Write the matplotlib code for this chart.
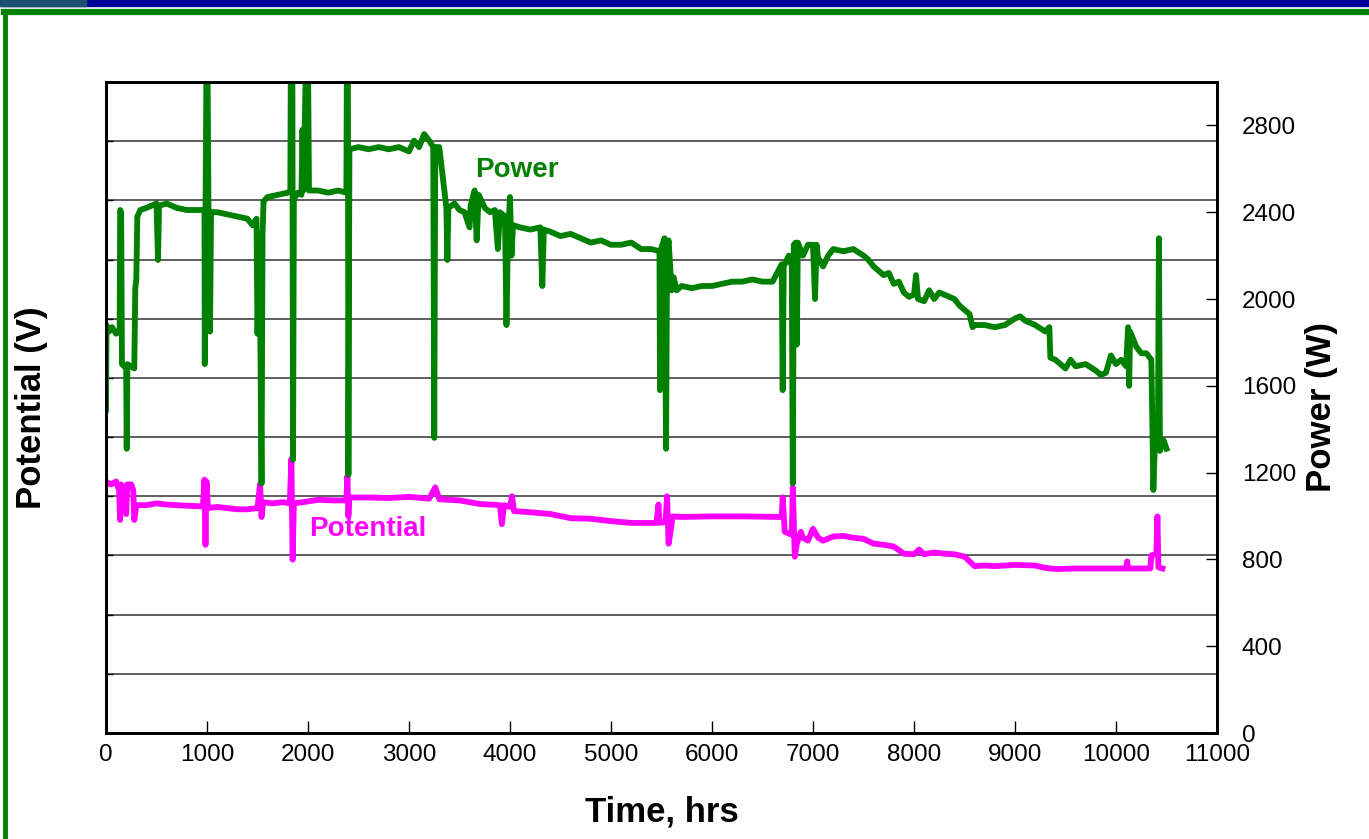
import numpy as np
import matplotlib.pyplot as plt
from matplotlib.lines import Line2D
from matplotlib.patches import Rectangle

plt.rcParams['font.family'] = ['Liberation Sans', 'DejaVu Sans']

# power trace (hrs, W)
power_t = [0, 5, 30, 60, 100, 135, 140, 150, 158, 200, 205, 212, 280, 290, 300, 310,
           340, 400, 450, 500, 515, 525, 600, 700, 800, 960, 975, 978, 985, 995, 1005,
           1015, 1030, 1040, 1100, 1200, 1300, 1400, 1450, 1490, 1500, 1520, 1540, 1550,
           1560, 1600, 1700, 1800, 1825, 1830, 1845, 1852, 1860, 1900, 1935, 1945, 1955,
           1980, 2000, 2010, 2100, 2200, 2300, 2380, 2385, 2395, 2400, 2410, 2500, 2600,
           2700, 2800, 2900, 3000, 3050, 3100, 3150, 3200, 3240, 3250, 3260, 3300, 3370,
           3380, 3390, 3450, 3500, 3550, 3600, 3610, 3650, 3670, 3690, 3750, 3800, 3850,
           3880, 3900, 3950, 3965, 3980, 4000, 4015, 4030, 4100, 4200, 4300, 4320, 4335,
           4400, 4500, 4600, 4700, 4800, 4900, 5000, 5100, 5200, 5300, 5400, 5480, 5485,
           5495, 5530, 5545, 5555, 5570, 5600, 5620, 5650, 5700, 5800, 5900, 6000, 6100,
           6200, 6300, 6400, 6500, 6600, 6690, 6700, 6710, 6760, 6790, 6800, 6810, 6830,
           6840, 6850, 6900, 6950, 7000, 7020, 7035, 7050, 7100, 7150, 7200, 7300, 7400,
           7500, 7550, 7600, 7650, 7700, 7750, 7800, 7850, 7900, 7950, 8000, 8020, 8040,
           8100, 8150, 8200, 8250, 8300, 8400, 8450, 8500, 8550, 8580, 8600, 8700, 8800,
           8900, 9000, 9050, 9100, 9200, 9300, 9340, 9350, 9400, 9450, 9500, 9550, 9600,
           9700, 9800, 9850, 9900, 9950, 10000, 10050, 10100, 10120, 10130, 10140, 10200,
           10250, 10300, 10350, 10370, 10390, 10415, 10425, 10435, 10470, 10500]
power_w = [1490, 1880, 1850, 1870, 1840, 1850, 2410, 2400, 1700, 1680, 1310, 1700, 1680, 2050,
           2090, 2380, 2410, 2420, 2430, 2440, 2180, 2430, 2440, 2420, 2410, 2410, 2410, 1700,
           2400, 3100, 3100, 2400, 1850, 2400, 2400, 2390, 2380, 2370, 2340, 2370, 1840, 2300,
           1150, 2300, 2450, 2470, 2480, 2490, 2500, 3100, 3100, 1260, 2460, 2490, 2480, 2780,
           2500, 3100, 3100, 2500, 2500, 2490, 2500, 2490, 3100, 3100, 1190, 2690, 2700, 2690,
           2700, 2690, 2700, 2680, 2730, 2700, 2760, 2730, 2700, 1360, 2700, 2700, 2420, 2180,
           2420, 2440, 2410, 2400, 2330, 2430, 2500, 2270, 2480, 2420, 2400, 2410, 2230, 2400,
           2380, 1880, 2300, 2470, 2200, 2340, 2330, 2320, 2330, 2060, 2320, 2310, 2290, 2300,
           2280, 2260, 2270, 2250, 2250, 2260, 2230, 2230, 2220, 1580, 2230, 2280, 1310, 2200,
           2270, 2040, 2100, 2040, 2060, 2050, 2060, 2060, 2070, 2080, 2080, 2090, 2080, 2080,
           2160, 1580, 2150, 2200, 2150, 1150, 2250, 2260, 1790, 2260, 2200, 2250, 2250, 2000,
           2250, 2190, 2150, 2200, 2230, 2220, 2230, 2200, 2180, 2150, 2130, 2110, 2120, 2070,
           2080, 2030, 2010, 2020, 2110, 2000, 1990, 2040, 2000, 2030, 2020, 2000, 1970, 1950,
           1930, 1870, 1880, 1880, 1870, 1880, 1910, 1920, 1900, 1880, 1850, 1870, 1730, 1720,
           1700, 1680, 1720, 1690, 1700, 1670, 1650, 1660, 1740, 1700, 1720, 1690, 1870, 1600,
           1850, 1780, 1750, 1750, 1720, 1120, 1400, 1350, 2280, 1300, 1350, 1310]

# potential trace (hrs, V)
pot_t = [0, 50, 100, 130, 140, 150, 180, 200, 210, 250, 270, 280, 300, 400, 500, 600, 700,
         800, 960, 975, 985, 995, 1010, 1100, 1200, 1300, 1400, 1500, 1525, 1540, 1555, 1650,
         1750, 1820, 1835, 1848, 1860, 1950, 2100, 2250, 2380, 2390, 2400, 2410, 2600, 2800,
         3000, 3200, 3260, 3300, 3500, 3700, 3900, 3920, 3940, 4000, 4020, 4040, 4200, 4400,
         4600, 4800, 5000, 5200, 5450, 5470, 5480, 5540, 5555, 5570, 5590, 5610, 5700, 6000,
         6300, 6690, 6700, 6720, 6790, 6800, 6820, 6840, 6880, 6900, 6950, 7000, 7050, 7100,
         7200, 7300, 7400, 7500, 7600, 7700, 7800, 7900, 8000, 8050, 8100, 8200, 8300, 8400,
         8500, 8600, 8700, 8800, 9000, 9200, 9300, 9400, 9600, 10000, 10100, 10110, 10120,
         10340, 10350, 10400, 10410, 10420, 10460]
pot_v = [42.5, 42, 42.5, 41, 36, 42, 41, 37, 42, 42, 41, 36, 38.5, 38.5, 38.8, 38.6, 38.5,
         38.4, 38.3, 42.8, 31.8, 42.5, 38, 38.2, 38, 37.8, 37.8, 38, 42, 36.5, 39, 38.8, 39,
         38.8, 46.3, 29.3, 38.8, 39, 39.4, 39.3, 39.3, 43.4, 36.6, 39.8, 39.8, 39.7, 39.9,
         39.6, 41.5, 39.5, 39.3, 38.7, 38.5, 35.3, 38.5, 38.2, 40, 37.5, 37.3, 37, 36.3, 36.2,
         35.8, 35.5, 35.5, 38.6, 35.5, 35.7, 40, 32, 34, 36.6, 36.5, 36.6, 36.6, 36.5, 39.8,
         34, 33.5, 41.5, 29.8, 32, 34, 33, 32.5, 34.5, 33, 32.5, 33.2, 33.3, 33, 32.8, 32,
         31.8, 31.5, 30.3, 30.2, 31, 30.2, 30.5, 30.3, 30.2, 29.8, 28.2, 28.3, 28.2, 28.4,
         28.3, 27.9, 27.7, 27.8, 27.8, 27.8, 29, 27.8, 27.8, 30, 30.3, 36.6, 28, 27.8]

x_ticks = np.arange(0, 11001, 1000)
power_ticks = np.arange(0, 2801, 400)

fig = plt.figure(figsize=(13.69, 8.39), dpi=100)
fig.set_facecolor('w')

# slide decoration
fig.patches.append(Rectangle((0, 1 - 6 / 839), 1, 6 / 839, transform=fig.transFigure,
                             color='#000099', zorder=0))
fig.patches.append(Rectangle((0, 1 - 6 / 839), 86 / 1369, 6 / 839, transform=fig.transFigure,
                             color='#1d4f72', zorder=1))
fig.lines.append(Line2D([4 / 1369, 1], [1 - 12 / 839, 1 - 12 / 839], transform=fig.transFigure,
                        color='#008000', lw=4.5))
fig.lines.append(Line2D([5.5 / 1369, 5.5 / 1369], [0, 1 - 12 / 839], transform=fig.transFigure,
                        color='#008000', lw=3.5))

ax = fig.add_axes([106 / 1369, 1 - 733 / 839, 1111 / 1369, 651 / 839])
ax2 = ax.twinx()

ax.plot(pot_t, pot_v, color='#ff00ff', lw=4.2, solid_joinstyle='round')
ax2.plot(power_t, power_w, color='#008000', lw=4.2, solid_joinstyle='round')

ax.set_xlim(0, 11000)
ax.set_ylim(0, 110)
ax2.set_ylim(0, 3000)
ax.set_xticks(x_ticks)
ax.set_yticks(np.arange(0, 111, 10))
ax.set_yticklabels([])
ax.yaxis.grid(True, color='#333333', lw=1.1)
ax.set_axisbelow(True)
ax2.set_yticks(power_ticks)

ax.tick_params(axis='x', direction='in', length=9, width=1, pad=8, labelsize=17.5)
ax.tick_params(axis='y', direction='in', length=5, width=1)
ax2.tick_params(axis='y', direction='in', length=8, width=1, pad=18, labelsize=17.5)

for a in (ax, ax2):
    for s in a.spines.values():
        s.set_linewidth(2)

ax.set_xlabel('Time, hrs', fontsize=25, fontweight='bold', labelpad=21)
ax.set_ylabel('Potential (V)', fontsize=25, fontweight='bold')
ax2.set_ylabel('Power (W)', fontsize=25, fontweight='bold')
ax.yaxis.set_label_coords(-58 / 1111, 0.5)
ax2.yaxis.set_label_coords(1 + 88 / 1111, 0.5)

ax2.text(4069, 2596, 'Power', color='#008000', fontsize=20, fontweight='bold',
         ha='center', va='center')
ax.text(2594, 34.4, 'Potential', color='#ff00ff', fontsize=20, fontweight='bold',
        ha='center', va='center')

fig.savefig('out.png', dpi=100, facecolor='w')
